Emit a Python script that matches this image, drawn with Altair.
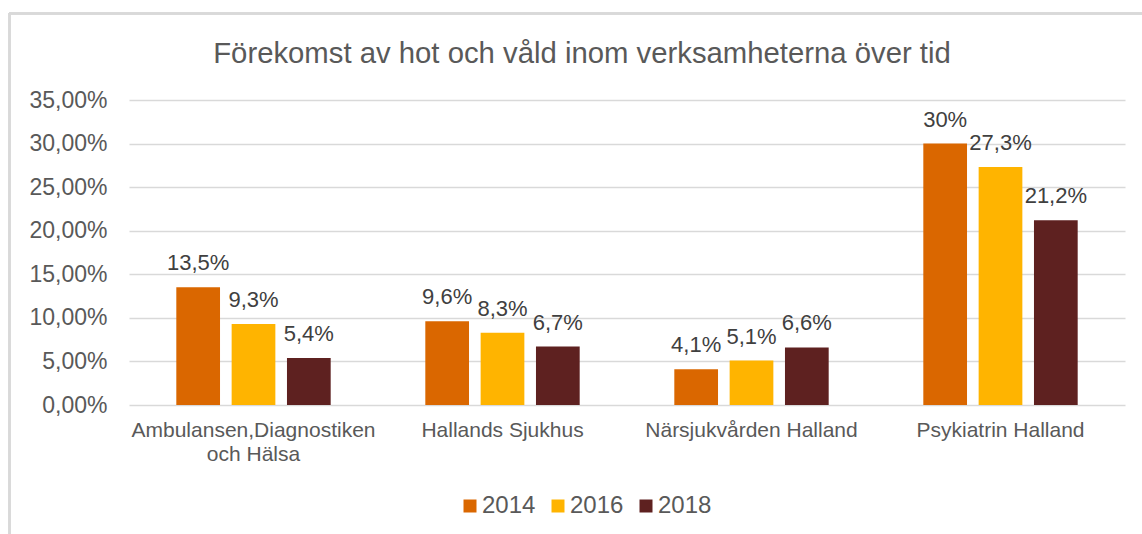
import altair as alt
import pandas as pd

categories = ["Ambulansen,Diagnostiken\noch Hälsa", "Hallands Sjukhus",
              "Närsjukvården Halland", "Psykiatrin Halland"]
years = ["2014", "2016", "2018"]
v2014 = [0.135, 0.096, 0.041, 0.30]
v2016 = [0.093, 0.083, 0.051, 0.273]
v2018 = [0.054, 0.067, 0.066, 0.212]
labels2014 = ["13,5%", "9,6%", "4,1%", "30%"]
labels2016 = ["9,3%", "8,3%", "5,1%", "27,3%"]
labels2018 = ["5,4%", "6,7%", "6,6%", "21,2%"]
y_ticks = [0, 0.05, 0.10, 0.15, 0.20, 0.25, 0.30, 0.35]
colors = ["#DA6700", "#FFB400", "#5E2120"]
title_text = "Förekomst av hot och våld inom verksamheterna över tid"

rows = []
for yr, vals, labs in zip(years, [v2014, v2016, v2018], [labels2014, labels2016, labels2018]):
    for c, v, l in zip(categories, vals, labs):
        rows.append({"Verksamhet": c, "År": yr, "Andel": v, "Etikett": l})
df = pd.DataFrame(rows)

FONT = "Liberation Sans"
W, H = 996, 305

x_enc = alt.X("Verksamhet:N", sort=categories, title=None,
              scale=alt.Scale(paddingInner=0.38, paddingOuter=0.19),
              axis=alt.Axis(labelAngle=0, domain=False, ticks=False, labelFont=FONT,
                            labelFontSize=21, labelColor="#595959", labelPadding=14,
                            labelBaseline="top", labelLineHeight=24, labelLimit=400,
                            labelExpr="split(datum.label, '\\n')"))
xoff = alt.XOffset("År:N", sort=years, scale=alt.Scale(paddingInner=0.21, paddingOuter=0))
y_enc = alt.Y("Andel:Q", title=None,
              scale=alt.Scale(domain=[0, 0.35], nice=False),
              axis=alt.Axis(values=y_ticks, domain=False, ticks=False, labelFont=FONT,
                            labelFontSize=23, labelColor="#595959", labelPadding=22,
                            gridColor="#D9D9D9", gridWidth=1.3,
                            labelExpr="replace(format(datum.value, '.2%'), '.', ',')"))

base = alt.Chart(df)
bars = base.mark_bar(strokeWidth=0).encode(
    x=x_enc, xOffset=xoff, y=y_enc,
    color=alt.Color("År:N", sort=years, title=None,
                    scale=alt.Scale(domain=years, range=colors),
                    legend=alt.Legend(orient="none", direction="horizontal",
                                      legendX=329, legendY=394,
                                      symbolType="square", symbolSize=169,
                                      symbolStrokeWidth=0, labelFont=FONT,
                                      labelFontSize=24, labelColor="#595959",
                                      labelOffset=0, columnPadding=10)),
)
texts = base.mark_text(baseline="alphabetic", dy=-17, font=FONT, fontSize=22,
                       color="#404040").encode(
    x=alt.X("Verksamhet:N", sort=categories), xOffset=xoff,
    y=alt.Y("Andel:Q"), text="Etikett:N")

frame_top = alt.Chart(df).mark_rule(color="#D9D9D9", strokeWidth=2).encode(
    x=alt.value(-120), x2=alt.value(1100), y=alt.value(-86.5))
frame_left = alt.Chart(df).mark_rule(color="#D9D9D9", strokeWidth=2).encode(
    x=alt.value(-119.5), y=alt.value(-87), y2=alt.value(460))

chart = alt.layer(frame_top, frame_left, bars, texts).properties(
    width=W, height=H,
    title=alt.TitleParams(title_text, font=FONT, fontSize=29.3, fontWeight="normal",
                          color="#595959", anchor="middle", frame="group",
                          baseline="alphabetic", dx=-45, offset=-80),
    autosize=alt.AutoSizeParams(type="none"),
    padding={"left": 129, "top": 100, "right": 17, "bottom": 129},
    background="white",
).configure_view(stroke=None)

chart.save("out.html", embed_options={"renderer": "svg", "actions": False})
